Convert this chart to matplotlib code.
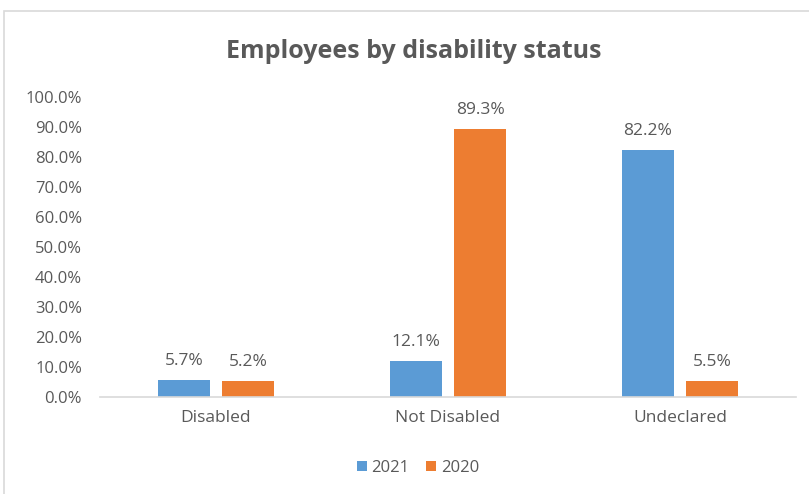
import matplotlib
matplotlib.use("Agg")
import matplotlib.pyplot as plt
import numpy as np
from matplotlib.patches import Rectangle

categories = ["Disabled", "Not Disabled", "Undeclared"]
series_names = ["2021", "2020"]
values_2021 = [5.7, 12.1, 82.2]
values_2020 = [5.2, 89.3, 5.5]
yticks = [0, 10, 20, 30, 40, 50, 60, 70, 80, 90, 100]

blue = "#5B9BD5"
orange = "#ED7D31"
txt = "#595959"

plt.rcParams['font.family'] = ['Open Sans', 'DejaVu Sans']

W, H = 809, 494
fig = plt.figure(figsize=(W/100, H/100), dpi=100)

# chart frame
fig.add_artist(Rectangle((3.5/W, -0.1), 1.2, (H-11.5)/H + 0.1, transform=fig.transFigure,
                         fill=False, edgecolor="#D9D9D9", linewidth=1.2))

ax = fig.add_axes([100/W, (H-397)/H, (796-100)/W, 300/H])
x = np.arange(len(categories))
bw = 0.224
off = 0.139
b1 = ax.bar(x - off, values_2021, bw, color=blue, label=series_names[0])
b2 = ax.bar(x + off, values_2020, bw, color=orange, label=series_names[1])
for bars, vals in ((b1, values_2021), (b2, values_2020)):
    for b, v in zip(bars, vals):
        ax.text(b.get_x() + b.get_width()/2, v + 5.0, f"{v:.1f}%", ha="center", va="baseline",
                fontsize=12.5, color=txt)

ax.set_xlim(-0.5, len(categories) - 0.5)
ax.set_ylim(0, 100)
ax.set_yticks(yticks)
ax.set_yticklabels([f"{t:.1f}%" for t in yticks], fontsize=12, color=txt)
ax.set_xticks(x)
ax.set_xticklabels(categories, fontsize=12.5, color=txt)
ax.tick_params(axis="both", length=0)
ax.tick_params(axis="y", pad=13)
ax.tick_params(axis="x", pad=9)
for s in ["top", "right", "left"]:
    ax.spines[s].set_visible(False)
ax.spines["bottom"].set_color("#D9D9D9")
ax.spines["bottom"].set_linewidth(1.2)

fig.text(414/W, 1 - 51/H, "Employees by disability status", ha="center", va="center",
         fontsize=18, fontweight="bold", color=txt)

fig.legend(handles=[b1, b2], labels=series_names, loc="center", bbox_to_anchor=(418/W, 1 - 468/H),
           ncol=2, frameon=False, fontsize=12, labelcolor=txt, handlelength=0.6, handleheight=0.6,
           handletextpad=0.3, columnspacing=1.0)

fig.savefig("out.png", dpi=100)
